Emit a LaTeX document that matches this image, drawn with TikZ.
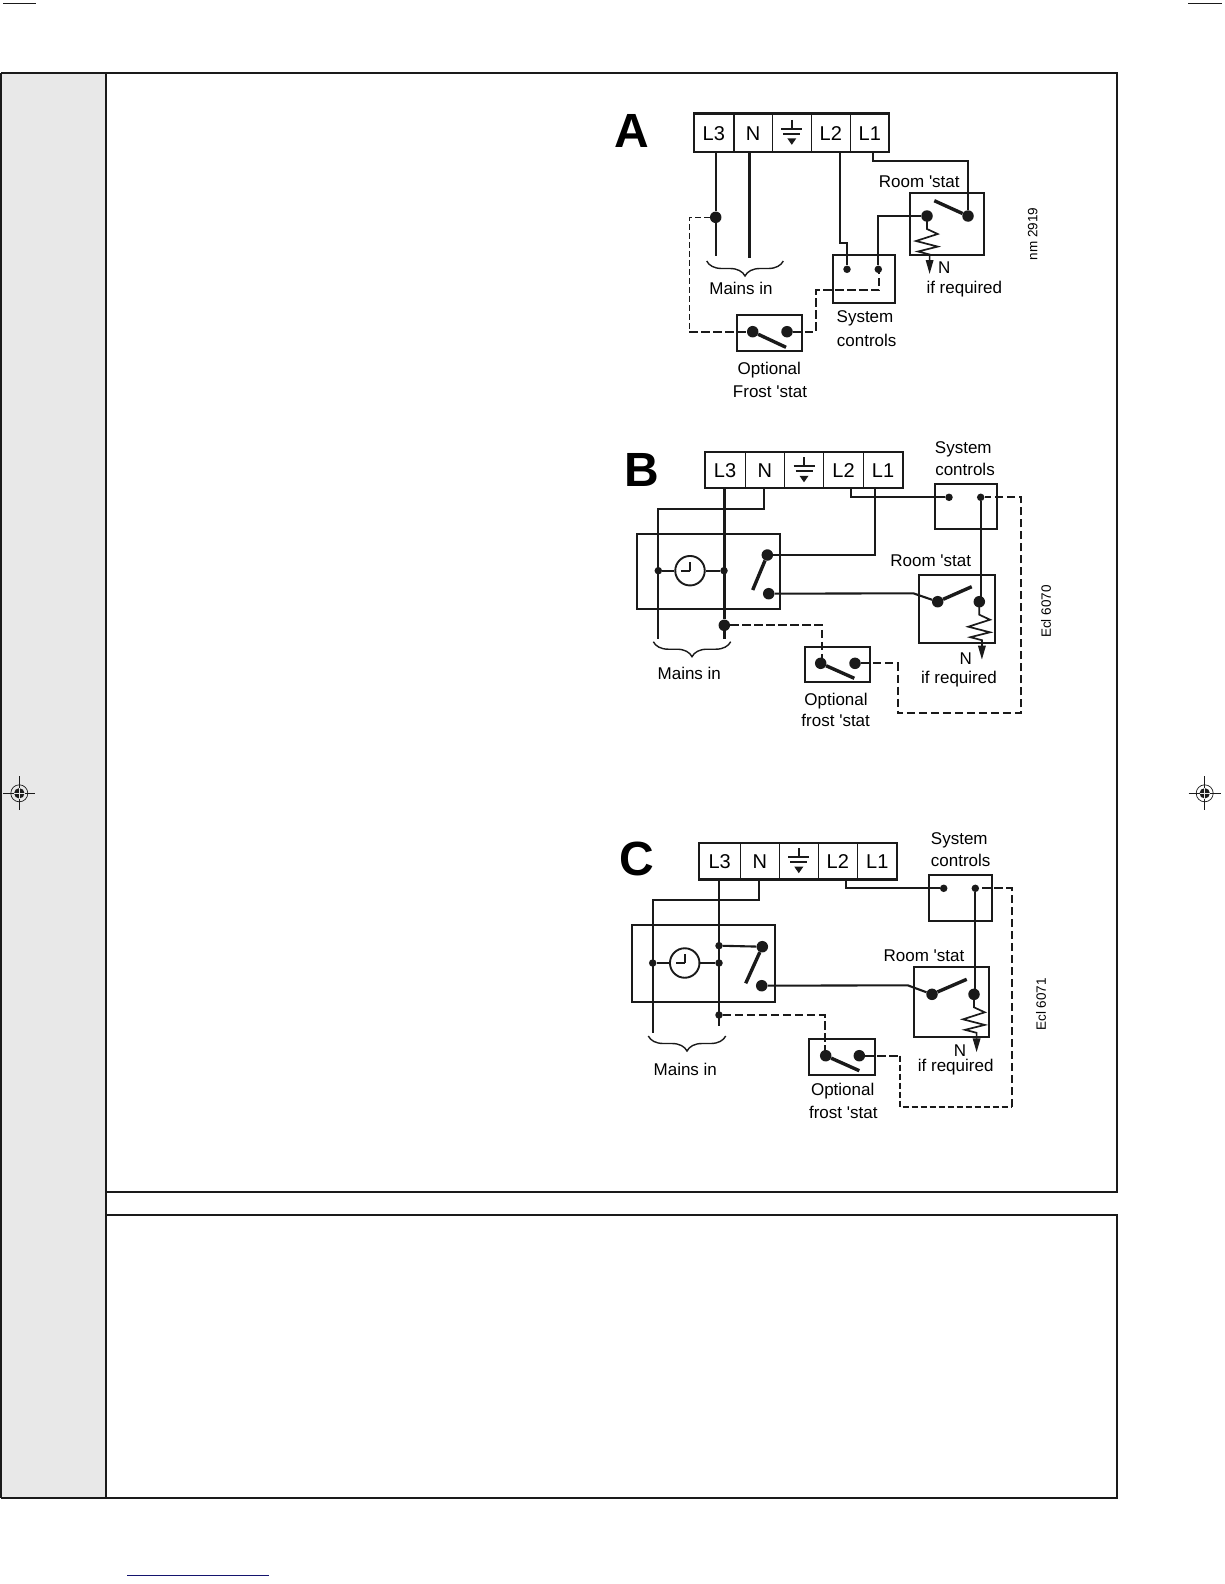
\documentclass[tikz,border=0pt]{standalone}
\usepackage{fontspec}
\setmainfont{Liberation Sans}
\usetikzlibrary{arrows.meta,decorations.pathreplacing}
\definecolor{panelgrey}{HTML}{E8E8E8}
\definecolor{inkblack}{HTML}{1A1A1A}
\definecolor{footblue}{HTML}{14146E}
\tikzset{
  frame/.style={draw=inkblack,line width=2pt},
  box/.style={draw=inkblack,line width=1.9pt},
  cell/.style={draw=inkblack,line width=1.1pt,inner sep=0pt,outer sep=0pt,text height=14.4pt,text depth=0pt,font=\cellfont},
  stripframe/.style={draw=inkblack,line width=2.3pt},
  wire/.style={draw=inkblack,line width=2.1pt},
  heavywire/.style={draw=inkblack,line width=2.8pt},
  arm/.style={draw=inkblack,line width=3.4pt},
  dashwire/.style={draw=inkblack,line width=1.7pt,dash pattern=on 8.5pt off 3.5pt},
  thindash/.style={draw=inkblack,line width=1.1pt,dash pattern=on 6pt off 3pt},
  bigdot/.style={circle,fill=inkblack,inner sep=0pt,minimum size=11.5pt},
  smalldot/.style={circle,fill=inkblack,inner sep=0pt,minimum size=7.5pt},
  clockface/.style={circle,draw=inkblack,line width=1.9pt,inner sep=0pt,minimum size=29.5pt},
  resistor/.style={wire,line width=1.7pt,-{Triangle[length=14pt,width=7.5pt]}},
  mainsbrace/.style={draw=inkblack,line width=1.4pt,decorate,decoration={brace,amplitude=15pt}},
  lab/.style={inner sep=0pt,font=\labelfont},
  letter/.style={inner sep=0pt,font=\letterfont},
  refno/.style={inner sep=0pt,rotate=90,font=\refnofont}
}
\newcommand{\cellfont}{\fontsize{20}{22}\selectfont}
\newcommand{\labelfont}{\fontsize{17}{20}\selectfont}
\newcommand{\letterfont}{\fontsize{48}{50}\selectfont\bfseries}
\newcommand{\refnofont}{\fontsize{13.5}{16}\selectfont}
\newcommand{\st}{\textquotesingle stat}
% terminal row: prefix, six divider positions, centre y, height
\newcommand{\termstrip}[9]{
  \node[cell,minimum width={(#3-#2)*1pt},minimum height=#9pt] (#1L3) at ({(#2+#3)/2},#8) {L3};
  \node[cell,minimum width={(#4-#3)*1pt},minimum height=#9pt] (#1N) at ({(#3+#4)/2},#8) {N};
  \node[cell,minimum width={(#5-#4)*1pt},minimum height=#9pt,text height=0pt] (#1E) at ({(#4+#5)/2},#8) {};
  \node[cell,minimum width={(#6-#5)*1pt},minimum height=#9pt] (#1L2) at ({(#5+#6)/2},#8) {L2};
  \node[cell,minimum width={(#7-#6)*1pt},minimum height=#9pt] (#1L1) at ({(#6+#7)/2},#8) {L1};
  \draw[stripframe] (#1L3.south west) rectangle (#1L1.north east);
  \begin{scope}[shift={(#1E.center)}]
    \draw[wire] (0,-13) -- (0,-5);
    \draw[wire] (-10.5,-4) -- (10.5,-4);
    \draw[wire] (-8.5,1) -- (8.5,1);
    \fill[inkblack] (-4.5,5.5) -- (4.5,5.5) -- (0,12) -- cycle;
  \end{scope}
}
\newcommand{\clockhands}[1]{
  \draw[wire] (#1.center) -- ++(0,-9);
  \draw[wire] (#1.center) -- ++(-9,0);
}
\newcommand{\zigzag}[1]{
  \draw[resistor,shift={(#1)}] (0,0) -- (0,13) -- (10.7,18) -- (-11,25) -- (10.7,30.6) -- (-9,35.5) -- (2.6,38.5) -- (2.6,58);
}
\newcommand{\regmark}[1]{
  \begin{scope}[shift={#1}]
    \draw[inkblack,line width=0.9pt] (-16,0) -- (16,0);
    \draw[inkblack,line width=0.9pt] (0,-17) -- (0,17);
    \draw[inkblack,line width=0.7pt] (0,0) circle (8.5);
    \fill[inkblack] (0,0) circle (5.2);
    \draw[panelgrey,line width=0.5pt] (-5.2,0) -- (5.2,0);
    \draw[panelgrey,line width=0.5pt] (0,-5.2) -- (0,5.2);
  \end{scope}
}
\begin{document}
\begin{tikzpicture}[x=1pt,y=-1pt]
  \useasboundingbox (0,0) rectangle (1224,1584);
  \fill[white] (0,0) rectangle (1224,1584);
  \fill[panelgrey] (1,73) rectangle (105.5,1498);
  \draw[frame,line width=1.4pt] (1,73) -- (1,1498);
  \draw[frame] (1,73) -- (1117.3,73) -- (1117.3,1192) -- (105.5,1192);
  \draw[frame] (105.5,1215) -- (1117.3,1215) -- (1117.3,1498) -- (1,1498);
  \draw[frame] (105.5,73) -- (105.5,1498);
  \draw[inkblack,line width=1.3pt] (3,3.3) -- (36,3.3);
  \draw[inkblack,line width=1.3pt] (1188,3.3) -- (1222,3.3);
  \draw[footblue,line width=1.1pt] (127,1575.3) -- (268.7,1575.3);
  \regmark{(19.3,793.3)}
  \regmark{(1204.7,793.3)}

  \node[letter] (aletter) at (632,131) {A};
  \termstrip{a}{693.7}{734}{772.3}{811.3}{850.3}{889.3}{132.8}{38.3}
  \node[bigdot] (ajoin) at (715.7,217.3) {};
  \coordinate (aL3w) at (715.7,152);
  \coordinate (aL3e) at (715.7,255.7);
  \coordinate (aNw) at (749.3,152);
  \coordinate (aNe) at (749.3,257.7);
  \coordinate (aL2w) at (840,152);
  \coordinate (aL2k) at (840,243.3);
  \coordinate (aL2j) at (847,243.3);
  \coordinate (aL1w) at (873,152);
  \coordinate (aL1k) at (873,161);
  \coordinate (aL1j) at (968,161);
  \node[box,minimum width=62.6pt,minimum height=48pt,inner sep=0pt] (asys) at (864,278.7) {};
  \node[box,minimum width=74pt,minimum height=62.3pt,inner sep=0pt] (aroom) at (947,223.8) {};
  \node[box,minimum width=65.3pt,minimum height=36pt,inner sep=0pt] (afrost) at (769.3,333) {};
  \node[smalldot] (asysL) at (847,269.3) {};
  \node[smalldot] (asysR) at (878.3,269.3) {};
  \node[bigdot] (aroomL) at (927,216) {};
  \node[bigdot] (aroomR) at (968,216) {};
  \coordinate (aroomT) at (934.3,200.7);
  \node[bigdot] (afrostL) at (752.7,331.7) {};
  \node[bigdot] (afrostR) at (787,331.7) {};
  \coordinate (afrostT) at (786,347.3);
  \coordinate (asysK) at (878.3,216);
  \coordinate (adashA) at (689.3,217.3);
  \coordinate (adashB) at (689.3,331.7);
  \coordinate (adashC) at (816,331.7);
  \coordinate (adashD) at (816,290);
  \coordinate (adashE) at (879.3,290);
  \coordinate (adashF) at (879.3,269.3);
  \draw[wire] (aL3w) -- (ajoin) -- (aL3e);
  \draw[heavywire] (aNw) -- (aNe);
  \draw[wire] (aL2w) -- (aL2k) -- (aL2j) -- (asysL);
  \draw[wire] (aL1w) -- (aL1k) -- (aL1j) -- (aroomR);
  \draw[wire] (asysR) -- (asysK) -- (aroomL);
  \draw[arm] (aroomT) -- (aroomR);
  \draw[arm] (afrostL) -- (afrostT);
  \zigzag{aroomL}
  \draw[thindash] (ajoin) -- (adashA) -- (adashB);
  \draw[dashwire] (adashB) -- (afrostL);
  \draw[dashwire] (afrostR) -- (adashC) -- (adashD) -- (adashE) -- (adashF);
  \draw[mainsbrace] (783.3,261) -- (706.7,261);
  \node[lab] (amains) at (741,288.3) {Mains in};
  \node[lab] (aroomlab) at (919.3,181.7) {Room \st};
  \node[lab] (aN) at (944.3,267.7) {N};
  \node[lab] (aifreq) at (964.3,288.7) {if required};
  \node[lab] (asys1) at (865,318.7) {System};
  \node[lab] (asys2) at (866.7,340) {controls};
  \node[lab] (aopt1) at (769.3,370.3) {Optional};
  \node[lab] (aopt2) at (770,391.7) {Frost \st};
  \node[refno] (aref) at (1032.7,234) {nm 2919};

  \node[letter] (bletter) at (642.2,469.5) {B};
  \termstrip{b}{704.7}{745.3}{784.3}{823.7}{863.3}{902.7}{470.3}{36}
  \node[box,minimum width=143.6pt,minimum height=75.3pt,inner sep=0pt] (btimer) at (708.5,571.3) {};
  \node[box,minimum width=62.3pt,minimum height=45.3pt,inner sep=0pt] (bsys) at (966.2,506.3) {};
  \node[box,minimum width=76pt,minimum height=68.6pt,inner sep=0pt] (broom) at (957,609) {};
  \node[box,minimum width=65.3pt,minimum height=35.3pt,inner sep=0pt] (bfrost) at (837.4,664.3) {};
  \node[clockface] (bclock) at (690,570.7) {};
  \clockhands{bclock}
  \node[smalldot] (btimerN) at (658.3,570.7) {};
  \node[smalldot] (btimerL) at (724,570.7) {};
  \node[bigdot] (bswT) at (767.3,555) {};
  \node[bigdot] (bswB) at (768.7,593.7) {};
  \coordinate (bswE) at (752.7,590);
  \node[bigdot] (bjoin) at (724.3,625.3) {};
  \node[smalldot] (bsysL) at (949,497.3) {};
  \node[smalldot] (bsysR) at (980.7,497.3) {};
  \node[bigdot] (broomL) at (937.7,601.7) {};
  \node[bigdot] (broomR) at (979.3,601.7) {};
  \coordinate (broomW) at (980.7,597);
  \coordinate (broomT) at (971.7,586.7);
  \node[bigdot] (bfrostL) at (820.7,663.3) {};
  \node[bigdot] (bfrostR) at (855,663.3) {};
  \coordinate (bfrostT) at (854.3,678.3);
  \coordinate (bL3w) at (724.3,488.3);
  \coordinate (bL3e) at (724.3,639.3);
  \coordinate (bNw) at (764.3,488.3);
  \coordinate (bNk) at (764.3,509);
  \coordinate (bNj) at (658.3,509);
  \coordinate (bNe) at (658.3,639.3);
  \coordinate (bL1w) at (875,488.3);
  \coordinate (bL1k) at (875,555);
  \coordinate (bL2w) at (851,488.3);
  \coordinate (bL2k) at (851,497.3);
  \coordinate (bbend) at (913.3,593.3);
  \coordinate (bdashA) at (821.7,625.3);
  \coordinate (bdashB) at (821.7,663.3);
  \coordinate (bdashC) at (897.7,663.3);
  \coordinate (bdashD) at (897.7,713.3);
  \coordinate (bdashE) at (1021,713.3);
  \coordinate (bdashF) at (1021,497.3);
  \draw[heavywire] (bL3w) -- (bjoin) -- (bL3e);
  \draw[wire] (bNw) -- (bNk) -- (bNj) -- (bNe);
  \draw[wire] (bL1w) -- (bL1k) -- (bswT);
  \draw[wire] (bL2w) -- (bL2k) -- (bsysL);
  \draw[wire] (btimerN) -- (bclock);
  \draw[wire] (bclock) -- (btimerL);
  \draw[wire] (bswB) -- (bbend) -- (broomL);
  \draw[wire] (bsysR) -- (broomW);
  \draw[arm] (bswT) -- (bswE);
  \draw[arm] (broomL) -- (broomT);
  \draw[arm] (bfrostL) -- (bfrostT);
  \zigzag{broomR}
  \draw[dashwire] (bjoin) -- (bdashA) -- (bdashB);
  \draw[dashwire] (bfrostR) -- (bdashC) -- (bdashD) -- (bdashE) -- (bdashF) -- (bsysR);
  \draw[mainsbrace] (730.7,641.7) -- (653.3,641.7);
  \node[lab] (bmains) at (689.3,673.3) {Mains in};
  \node[lab] (broomlab) at (930.7,560.3) {Room \st};
  \node[lab] (bsys1) at (963.3,449.3) {System};
  \node[lab] (bsys2) at (965,469.3) {controls};
  \node[lab] (bN) at (965.7,659) {N};
  \node[lab] (bifreq) at (959,679) {if required};
  \node[lab] (bopt1) at (836,700.8) {Optional};
  \node[lab] (bopt2) at (835.7,720.7) {frost \st};
  \node[refno] (bref) at (1046,611.7) {Ecl 6070};

  \node[letter] (cletter) at (637.2,859.2) {C};
  \termstrip{c}{699}{740.3}{779.3}{818.3}{857.3}{897.3}{861.2}{36.3}
  \node[box,minimum width=143.6pt,minimum height=77pt,inner sep=0pt] (ctimer) at (703.5,963.5) {};
  \node[box,minimum width=63.3pt,minimum height=45.7pt,inner sep=0pt] (csys) at (960.4,897.9) {};
  \node[box,minimum width=75.6pt,minimum height=70pt,inner sep=0pt] (croom) at (951.5,1001.7) {};
  \node[box,minimum width=66.3pt,minimum height=36.3pt,inner sep=0pt] (cfrost) at (842.2,1057.2) {};
  \node[clockface] (cclock) at (684.7,963) {};
  \clockhands{cclock}
  \node[smalldot] (ctimerN) at (652.7,963) {};
  \node[smalldot] (ctimerL) at (719,963) {};
  \node[smalldot] (ctimerS) at (719,945.7) {};
  \node[smalldot] (cjoin) at (719,1015) {};
  \node[bigdot] (cswT) at (762.3,946.7) {};
  \node[bigdot] (cswB) at (761.7,985.7) {};
  \coordinate (cswE) at (745.7,983.3);
  \node[smalldot] (csysL) at (943.7,888.3) {};
  \node[smalldot] (csysR) at (975.3,888.3) {};
  \node[bigdot] (croomL) at (932,994.3) {};
  \node[bigdot] (croomR) at (974,994.3) {};
  \coordinate (croomW) at (975.3,990);
  \coordinate (croomT) at (966.7,979.3);
  \node[bigdot] (cfrostL) at (825.7,1055.7) {};
  \node[bigdot] (cfrostR) at (859.3,1055.7) {};
  \coordinate (cfrostT) at (859.3,1070.7);
  \coordinate (cL3w) at (719,879.3);
  \coordinate (cL3e) at (719,1026);
  \coordinate (cNw) at (759,879.3);
  \coordinate (cNk) at (759,900);
  \coordinate (cNj) at (652.7,900);
  \coordinate (cNe) at (652.7,1032.7);
  \coordinate (cL2w) at (845.7,879.3);
  \coordinate (cL2k) at (845.7,888.3);
  \coordinate (cbend) at (907.7,985.3);
  \coordinate (cdashA) at (824.7,1015);
  \coordinate (cdashB) at (824.7,1055.7);
  \coordinate (cdashC) at (900,1055.7);
  \coordinate (cdashD) at (900,1107);
  \coordinate (cdashE) at (1012,1107);
  \coordinate (cdashF) at (1012,888.3);
  \draw[wire] (cL3w) -- (cL3e);
  \draw[wire] (cNw) -- (cNk) -- (cNj) -- (cNe);
  \draw[wire] (cL2w) -- (cL2k) -- (csysL);
  \draw[wire] (ctimerN) -- (cclock);
  \draw[wire] (cclock) -- (ctimerL);
  \draw[wire] (ctimerS) -- (cswT);
  \draw[wire] (cswB) -- (cbend) -- (croomL);
  \draw[wire] (csysR) -- (croomW);
  \draw[arm] (cswT) -- (cswE);
  \draw[arm] (croomL) -- (croomT);
  \draw[arm] (cfrostL) -- (cfrostT);
  \zigzag{croomR}
  \draw[dashwire] (cjoin) -- (cdashA) -- (cdashB);
  \draw[dashwire] (cfrostR) -- (cdashC);
  \draw[thindash] (cdashC) -- (cdashD) -- (cdashE);
  \draw[dashwire] (cdashE) -- (cdashF) -- (csysR);
  \draw[mainsbrace] (725.7,1036) -- (648.3,1036);
  \node[lab] (cmains) at (685.3,1069) {Mains in};
  \node[lab] (croomlab) at (924,955.7) {Room \st};
  \node[lab] (csys1) at (959.3,840.3) {System};
  \node[lab] (csys2) at (960.7,860.7) {controls};
  \node[lab] (cN) at (960,1050.7) {N};
  \node[lab] (cifreq) at (955.7,1067.5) {if required};
  \node[lab] (copt1) at (842.7,1091.5) {Optional};
  \node[lab] (copt2) at (843.3,1112.3) {frost \st};
  \node[refno] (cref) at (1041,1004.3) {Ecl 6071};
\end{tikzpicture}
\end{document}
